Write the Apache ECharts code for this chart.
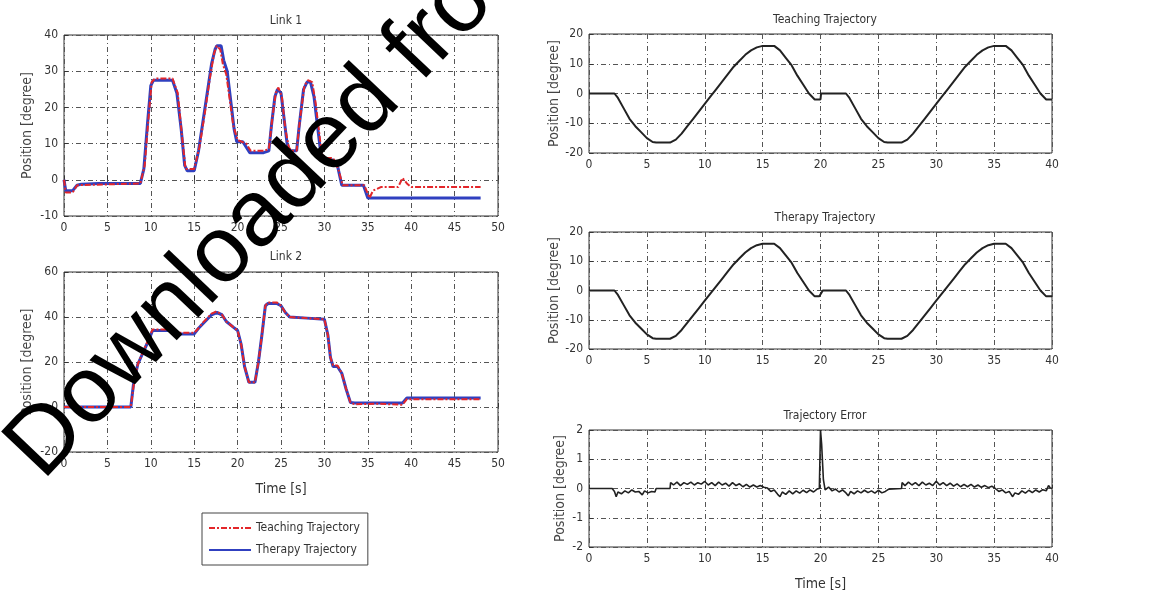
<!DOCTYPE html>
<html>
<head>
<meta charset="utf-8">
<script src="https://cdn.jsdelivr.net/npm/echarts@6/dist/echarts.min.js"></script>
<style>
  html, body { margin: 0; padding: 0; background: #fff; }
  #chart { width: 1156px; height: 593px; }
</style>
</head>
<body>
<div id="chart"></div>
<script>
// Link 1 (joint angle vs time)
const link1Teaching = [[0,0],[0.2,-3.5],[1,-3.5],[1.5,-1.5],[8.8,-1],[9.3,4],[9.7,16],[10.1,27],[10.5,28],[12.5,28],[13.1,24],[13.6,12],[14,3],[15,3],[15.6,9],[16.2,18],[16.8,28],[17.3,35],[17.6,37],[18,36],[18.3,32],[18.7,29],[19.1,22],[19.5,15],[20,11],[21,10],[21.5,8],[23,8],[23.6,8.5],[24,17],[24.4,24],[24.7,25.5],[25.1,23],[25.5,14],[25.9,9],[26.2,8],[26.8,8],[27.2,17],[27.7,26],[28.1,27.5],[28.6,27],[29,21],[29.4,13],[29.7,7],[30.2,6],[31,6],[31.6,3],[32.1,-1.5],[34.6,-1.5],[35.2,-5],[35.6,-3],[36.5,-2],[38.5,-2],[39,0.5],[39.5,-1],[40,-2],[48,-2]];
const link1Therapy = [[0,0],[0.2,-3],[1,-3],[1.5,-1.5],[2,-1.2],[4,-1],[8.8,-1],[9.2,3],[9.6,15],[10,26],[10.3,27.5],[12.5,27.5],[13,24],[13.5,14],[13.9,4],[14.2,2.5],[15,2.5],[15.5,8],[16,16],[16.5,24],[17,32],[17.4,36],[17.6,37],[18.1,37],[18.4,33],[18.8,30],[19.2,22],[19.6,14],[19.9,10.5],[20.6,10.5],[21,9],[21.4,7.5],[23,7.5],[23.6,8],[23.9,15],[24.3,23],[24.6,25],[25,24],[25.4,16],[25.7,10],[26,8],[26.8,8],[27.1,15],[27.6,25],[28,27],[28.4,27],[28.8,23],[29.2,15],[29.6,7],[30,5.5],[31,5.5],[31.5,4],[32,-1.5],[34.5,-1.5],[35,-5],[48,-5]];

// Link 2
const link2Teaching = [[0,0],[7.7,0],[8,9],[8.5,19],[9.2,25.5],[9.8,30.5],[10.2,34.5],[12.5,34.5],[13,33],[15,33],[15.5,35],[16,37.5],[17,41.5],[17.6,42.5],[18.2,41],[18.7,38],[19.5,35.5],[20,34],[20.4,28],[20.8,18],[21.3,11],[22,11],[22.4,20],[22.8,32],[23.2,45],[23.5,46.5],[24.5,46.5],[25,45],[25.5,42],[26,40],[28,39.5],[30,39],[30.4,32],[30.7,22],[31,18.5],[31.5,18.5],[32,15],[32.5,8],[33,2],[33.5,1.2],[36,1.5],[39,1],[39.5,3.5],[48,3.5]];
const link2Therapy = [[0,0],[7.7,0],[8,10],[8.5,19],[9.2,25],[9.8,30],[10.2,34],[12.5,34],[13,32.5],[15,32.5],[15.5,35],[16,37],[17,41],[17.6,42],[18.2,41],[18.7,38],[19.5,35.5],[20,34],[20.4,28],[20.8,18],[21.3,11],[22,11],[22.4,20],[22.8,32],[23.2,45],[23.5,46],[24.5,46],[25,45],[25.5,42],[26,40],[28,39.5],[30,39],[30.4,32],[30.7,22],[31,18],[31.5,18],[32,15],[32.5,8],[33,2],[33.5,1.8],[36,1.8],[39,1.8],[39.5,4],[48,4]];

// right column
const teachingTraj = [[0,0],[2.2,0],[2.5,-1.5],[3,-5],[3.5,-8.5],[4,-11],[4.5,-13],[5,-15],[5.5,-16.3],[5.8,-16.5],[7,-16.5],[7.5,-15.5],[8,-13.5],[8.5,-11],[9,-8.5],[9.5,-6],[10,-3.5],[10.5,-1],[11,1.5],[11.5,4],[12,6.5],[12.5,9],[13,11],[13.5,13],[14,14.5],[14.5,15.5],[15,16],[16,16],[16.5,14.5],[17,12],[17.5,9.5],[18,6],[18.5,3],[19,0],[19.5,-2],[20,-2],[20.05,0],[22.2,0],[22.5,-1.5],[23,-5],[23.5,-8.5],[24,-11],[24.5,-13],[25,-15],[25.5,-16.3],[25.8,-16.5],[27,-16.5],[27.5,-15.5],[28,-13.5],[28.5,-11],[29,-8.5],[29.5,-6],[30,-3.5],[30.5,-1],[31,1.5],[31.5,4],[32,6.5],[32.5,9],[33,11],[33.5,13],[34,14.5],[34.5,15.5],[35,16],[36,16],[36.5,14.5],[37,12],[37.5,9.5],[38,6],[38.5,3],[39,0],[39.5,-2],[40,-2]];
const therapyTraj = [[0,0],[2.2,0],[2.5,-1.5],[3,-5],[3.5,-8.5],[4,-11],[4.5,-13],[5,-15],[5.5,-16.3],[5.8,-16.5],[7,-16.5],[7.5,-15.5],[8,-13.5],[8.5,-11],[9,-8.5],[9.5,-6],[10,-3.5],[10.5,-1],[11,1.5],[11.5,4],[12,6.5],[12.5,9],[13,11],[13.5,13],[14,14.5],[14.5,15.5],[15,16],[16,16],[16.5,14.5],[17,12],[17.5,9.5],[18,6],[18.5,3],[19,0],[19.5,-2],[19.9,-2],[20.2,0],[22.2,0],[22.5,-1.5],[23,-5],[23.5,-8.5],[24,-11],[24.5,-13],[25,-15],[25.5,-16.3],[25.8,-16.5],[27,-16.5],[27.5,-15.5],[28,-13.5],[28.5,-11],[29,-8.5],[29.5,-6],[30,-3.5],[30.5,-1],[31,1.5],[31.5,4],[32,6.5],[32.5,9],[33,11],[33.5,13],[34,14.5],[34.5,15.5],[35,16],[36,16],[36.5,14.5],[37,12],[37.5,9.5],[38,6],[38.5,3],[39,0],[39.5,-2],[40,-2]];
const trajError = [[0,0],[2,0],[2.2,-0.1],[2.35,-0.28],[2.5,-0.12],[2.8,-0.18],[3.1,-0.08],[3.4,-0.15],[3.7,-0.05],[4,-0.12],[4.3,-0.1],[4.6,-0.22],[4.8,-0.08],[5.1,-0.15],[5.4,-0.1],[5.7,-0.12],[5.8,0],[7,0],[7.05,0.2],[7.3,0.12],[7.6,0.22],[7.9,0.1],[8.2,0.2],[8.5,0.14],[8.8,0.22],[9.1,0.12],[9.4,0.2],[9.7,0.15],[10,0.24],[10.3,0.12],[10.6,0.2],[10.9,0.1],[11.2,0.22],[11.5,0.12],[11.8,0.18],[12.1,0.08],[12.4,0.2],[12.7,0.1],[13,0.16],[13.3,0.06],[13.6,0.14],[13.9,0.05],[14.2,0.12],[14.5,0.05],[14.8,0.1],[15.1,0.04],[15.4,0.02],[15.7,-0.1],[16,-0.05],[16.3,-0.2],[16.5,-0.28],[16.7,-0.12],[17,-0.2],[17.3,-0.08],[17.6,-0.18],[17.9,-0.08],[18.2,-0.16],[18.5,-0.06],[18.8,-0.14],[19.1,-0.05],[19.4,-0.12],[19.7,-0.02],[19.9,0],[20,2],[20.1,1.5],[20.25,0.3],[20.4,-0.05],[20.7,0.05],[21,-0.08],[21.3,-0.02],[21.6,-0.12],[21.9,-0.05],[22.2,-0.15],[22.4,-0.25],[22.6,-0.1],[22.9,-0.18],[23.2,-0.08],[23.5,-0.15],[23.8,-0.06],[24.1,-0.14],[24.4,-0.08],[24.7,-0.16],[25,-0.06],[25.3,-0.15],[25.6,-0.1],[25.9,-0.02],[26,0],[27,0],[27.05,0.2],[27.3,0.1],[27.6,0.22],[27.9,0.12],[28.2,0.2],[28.5,0.1],[28.8,0.22],[29.1,0.12],[29.4,0.18],[29.7,0.1],[30,0.25],[30.3,0.12],[30.6,0.2],[30.9,0.1],[31.2,0.18],[31.5,0.08],[31.8,0.16],[32.1,0.06],[32.4,0.14],[32.7,0.06],[33,0.14],[33.3,0.05],[33.6,0.12],[33.9,0.04],[34.2,0.1],[34.5,0.03],[34.8,0.08],[35.1,0],[35.4,-0.1],[35.7,-0.05],[36,-0.15],[36.3,-0.1],[36.6,-0.28],[36.8,-0.15],[37.1,-0.2],[37.4,-0.08],[37.7,-0.16],[38,-0.06],[38.3,-0.14],[38.6,-0.05],[38.9,-0.12],[39.2,-0.04],[39.5,-0.08],[39.7,0.1],[39.85,0.02],[40,0]];

const FONT = "'Liberation Sans Narrow', 'DejaVu Sans Condensed', Arial, sans-serif"
const RED = '#e3262a'
const BLUE = '#3040c0'
const gridLine = { show: true, lineStyle: { color: '#555', width: 1, type: [5, 3, 1, 3] } }

// panel boxes in pixels
const panels = [
  { left: 64, top: 35, width: 434, height: 181 },
  { left: 64, top: 272, width: 434, height: 180 },
  { left: 589, top: 34, width: 463, height: 119 },
  { left: 589, top: 232, width: 463, height: 117 },
  { left: 589, top: 430, width: 463, height: 117 }
]
const yRanges = [[-10, 40, 10], [-20, 60, 20], [-20, 20, 10], [-20, 20, 10], [-2, 2, 1]]
const xMax = [50, 50, 40, 40, 40]
const timeName = [false, true, false, false, true]

function xAxisFor(i) {
  return {
    gridIndex: i, type: 'value', min: 0, max: xMax[i], interval: 5,
    axisLine: { show: false }, axisTick: { inside: true, length: 4, lineStyle: { color: '#333' } },
    axisLabel: { color: '#333', fontSize: 12, fontFamily: FONT, margin: 6 },
    splitLine: gridLine,
    name: timeName[i] ? 'Time [s]' : '', nameLocation: 'middle', nameGap: 30,
    nameTextStyle: { color: '#333', fontSize: 14, fontFamily: FONT }
  }
}
function yAxisFor(i) {
  return {
    gridIndex: i, type: 'value', min: yRanges[i][0], max: yRanges[i][1], interval: yRanges[i][2],
    axisLine: { show: false }, axisTick: { inside: true, length: 4, lineStyle: { color: '#333' } },
    axisLabel: { color: '#333', fontSize: 12, fontFamily: FONT, margin: 6 },
    splitLine: gridLine,
    name: 'Position [degree]', nameLocation: 'middle', nameGap: i < 2 ? 30 : 22, nameRotate: 90,
    nameTextStyle: { color: '#444', fontSize: 14, fontFamily: FONT }
  }
}
function line(name, data, idx, color, width, type) {
  return {
    name: name, type: 'line', xAxisIndex: idx, yAxisIndex: idx, data: data,
    symbol: 'none', animation: false, silent: true,
    lineStyle: { color: color, width: width, type: type || 'solid' },
    itemStyle: { color: color }
  }
}

const titleStyle = { color: '#333', fontSize: 12, fontWeight: 'normal', fontFamily: FONT }
const option = {
  backgroundColor: '#ffffff',
  animation: false,
  title: [
    { text: 'Link 1', left: 281, top: 10, textAlign: 'center', textStyle: titleStyle },
    { text: 'Link 2', left: 281, top: 246, textAlign: 'center', textStyle: titleStyle },
    { text: 'Teaching Trajectory', left: 820, top: 9, textAlign: 'center', textStyle: titleStyle },
    { text: 'Therapy Trajectory', left: 820, top: 207, textAlign: 'center', textStyle: titleStyle },
    { text: 'Trajectory Error', left: 820, top: 405, textAlign: 'center', textStyle: titleStyle }
  ],
  legend: {
    data: ['Teaching Trajectory', 'Therapy Trajectory'],
    orient: 'vertical', left: 202, top: 513,
    borderColor: '#444', borderWidth: 1, padding: [9, 8, 9, 6],
    itemGap: 10, itemWidth: 42, itemHeight: 10,
    itemStyle: { opacity: 0 },
    textStyle: { color: '#333', fontSize: 12, fontFamily: FONT }
  },
  grid: panels.map(p => Object.assign({ show: true, borderColor: '#333', borderWidth: 1, backgroundColor: 'transparent' }, p)),
  xAxis: panels.map((p, i) => xAxisFor(i)),
  yAxis: panels.map((p, i) => yAxisFor(i)),
  series: [
    line('Therapy Trajectory', link1Therapy, 0, BLUE, 3),
    line('Teaching Trajectory', link1Teaching, 0, RED, 2, [6, 2, 2, 2]),
    line('Therapy Trajectory', link2Therapy, 1, BLUE, 3),
    line('Teaching Trajectory', link2Teaching, 1, RED, 2, [6, 2, 2, 2]),
    line('teaching', teachingTraj, 2, '#222', 2),
    line('therapy', therapyTraj, 3, '#222', 2),
    line('error', trajError, 4, '#222', 1.6)
  ],
  // watermark laid over the figure
  graphic: [{
    type: 'text', x: 58, y: 496, rotation: 46.5 * Math.PI / 180, z: 100, silent: true,
    style: { text: 'Downloaded from', fill: '#000', font: "94px 'Liberation Sans', Arial, sans-serif", verticalAlign: 'bottom', align: 'left' }
  }]
}

const chart = echarts.init(document.getElementById('chart'))
chart.setOption(option)
</script>
</body>
</html>
